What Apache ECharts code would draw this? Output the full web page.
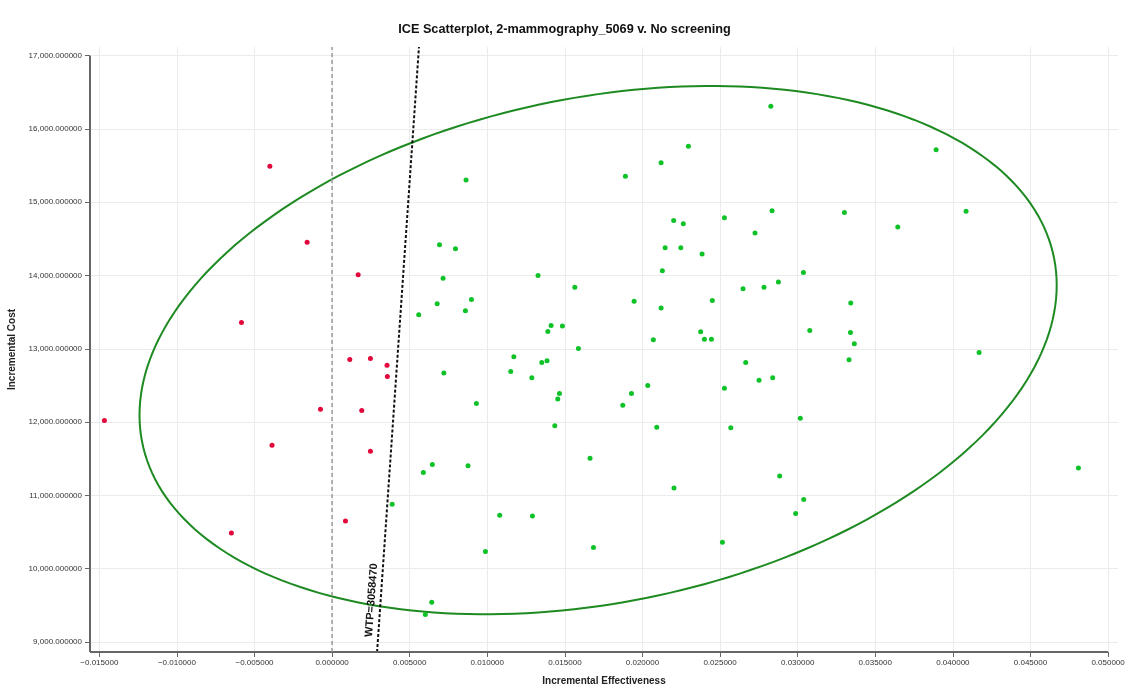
<!DOCTYPE html>
<html>
<head>
<meta charset="utf-8">
<script src="https://cdn.jsdelivr.net/npm/echarts@6/dist/echarts.min.js"></script>
<style>
html,body{margin:0;padding:0;background:#fff;}
#chart{width:1129px;height:697px;}
</style>
</head>
<body>
<div id="chart"></div>
<script>
// ---- data ----
const titleText = 'ICE Scatterplot, 2-mammography_5069 v. No screening';
const xAxisName = 'Incremental Effectiveness';
const yAxisName = 'Incremental Cost';
const WTP = 3058470;
const wtpLabel = 'WTP=3058470';

const xTicks = [-0.015, -0.010, -0.005, 0.000, 0.005, 0.010, 0.015, 0.020, 0.025, 0.030, 0.035, 0.040, 0.045, 0.050];
const yTicks = [9000, 10000, 11000, 12000, 13000, 14000, 15000, 16000, 17000];
const xDomain = [-0.0156, 0.05064];
const yDomain = [8863, 17119];

// points above the WTP line (not cost-effective)
const redPoints = [
  [-0.00401, 15490], [-0.00161, 14453], [0.00168, 14010], [-0.00584, 13360],
  [0.00114, 12855], [0.00247, 12869], [0.00354, 12777], [0.00356, 12623],
  [-0.01467, 12022], [-0.00075, 12177], [0.00191, 12159], [-0.00387, 11685],
  [0.00247, 11603], [0.00086, 10652], [-0.00649, 10488]
];
// points below the WTP line (cost-effective)
const greenPoints = [
  [0.00863, 15303], [0.00692, 14420], [0.00795, 14365], [0.00715, 13965], [0.00558, 13464],
  [0.00677, 13614], [0.00898, 13674], [0.00859, 13519], [0.00720, 12672], [0.01327, 14002],
  [0.01564, 13842], [0.01171, 12891], [0.01151, 12691], [0.01287, 12604], [0.01351, 12814],
  [0.01385, 12836], [0.01390, 13237], [0.01411, 13319], [0.01484, 13310], [0.01587, 13005],
  [0.01890, 15354], [0.02120, 15539], [0.02296, 15763], [0.02201, 14753], [0.02263, 14706],
  [0.02146, 14379], [0.02247, 14379], [0.02384, 14293], [0.02128, 14065], [0.02528, 14788],
  [0.02725, 14580], [0.01946, 13651], [0.02120, 13556], [0.02450, 13661], [0.02648, 13819],
  [0.02375, 13232], [0.02399, 13132], [0.02444, 13132], [0.02070, 13123], [0.02665, 12814],
  [0.00930, 12255], [0.01465, 12391], [0.01454, 12317], [0.01435, 11949], [0.02034, 12500],
  [0.01929, 12391], [0.01873, 12231], [0.02092, 11931], [0.02528, 12463], [0.02569, 11922],
  [0.02751, 12573], [0.00588, 11313], [0.00646, 11422], [0.00876, 11403], [0.01662, 11508],
  [0.02203, 11102], [0.00387, 10880], [0.01080, 10730], [0.01291, 10720], [0.00988, 10234],
  [0.01684, 10289], [0.02515, 10361], [0.00642, 9542], [0.00601, 9374], [0.02827, 16309],
  [0.03892, 15717], [0.02835, 14884], [0.03301, 14862], [0.03645, 14661], [0.04085, 14876],
  [0.03037, 14043], [0.02783, 13842], [0.02876, 13911], [0.03342, 13624], [0.03078, 13251],
  [0.03340, 13224], [0.03365, 13068], [0.03331, 12850], [0.04169, 12951], [0.02839, 12604],
  [0.03017, 12054], [0.02884, 11266], [0.03039, 10944], [0.02987, 10753], [0.04809, 11375]
];

// confidence ellipse (data units): centre + A*cos t + B*sin t
const ellipseCenter = [0.01714, 12982];
const ellipseAxisA = [0.02955, 887];
const ellipseAxisB = [0, 3494];
const wtpLabelCost = 9570;

// ---- chart ----
const chart = echarts.init(document.getElementById('chart'), null, {renderer: 'canvas'});
const FONT = 'Liberation Sans, Arial, sans-serif';

function fmtX(v) {
  const s = Math.abs(v).toFixed(6);
  return (v < 0 ? '\u2212' : '') + s;
}
function fmtY(v) {
  const parts = v.toFixed(6).split('.');
  return parts[0].replace(/\B(?=(\d{3})+(?!\d))/g, ',') + '.' + parts[1];
}

const option = {
  backgroundColor: '#fff',
  animation: false,
  title: {
    text: titleText,
    left: 'center',
    top: 18,
    textStyle: {fontFamily: FONT, fontSize: 12.7, fontWeight: 'bold', color: '#111'}
  },
  grid: {left: 90, right: 11, top: 47, bottom: 45, containLabel: false, outerBoundsMode: 'none'},
  xAxis: {
    type: 'value',
    min: xDomain[0], max: xDomain[1],
    name: xAxisName,
    nameLocation: 'middle',
    nameGap: 24,
    nameTextStyle: {fontFamily: FONT, fontSize: 10, fontWeight: 'bold', color: '#222'},
    axisLine: {show: false, onZero: false},
    axisTick: {show: true, customValues: xTicks, length: 5, lineStyle: {color: '#666', width: 1}},
    axisLabel: {customValues: xTicks, formatter: fmtX, fontFamily: FONT, fontSize: 8, color: '#333', margin: 7},
    splitLine: {show: true, lineStyle: {color: '#ebebeb', width: 1}}
  },
  yAxis: {
    type: 'value',
    min: yDomain[0], max: yDomain[1],
    name: yAxisName,
    nameLocation: 'middle',
    nameRotate: 90,
    nameGap: 64,
    nameTextStyle: {fontFamily: FONT, fontSize: 10, fontWeight: 'bold', color: '#222'},
    axisLine: {show: false, onZero: false},
    axisTick: {show: true, customValues: yTicks, length: 5, lineStyle: {color: '#666', width: 1}},
    axisLabel: {customValues: yTicks, formatter: fmtY, fontFamily: FONT, fontSize: 8, color: '#333', margin: 8},
    splitLine: {show: true, lineStyle: {color: '#ebebeb', width: 1}}
  },
  series: [
    {
      name: 'axes',
      type: 'line',
      data: [],
      silent: true,
      z: 1,
      markLine: {
        silent: true,
        symbol: ['none', 'none'],
        label: {show: false},
        emphasis: {disabled: true},
        data: [
          [{coord: [xDomain[0], yDomain[0]], lineStyle: {color: '#666', width: 2, type: 'solid'}},
           {coord: [xDomain[0], yTicks[yTicks.length - 1]]}],
          [{coord: [xDomain[0], yDomain[0]], lineStyle: {color: '#666', width: 2, type: 'solid'}},
           {coord: [xTicks[xTicks.length - 1], yDomain[0]]}],
          [{coord: [0, yDomain[0]], lineStyle: {color: '#9a9a9a', width: 1.5, type: [4, 3]}},
           {coord: [0, yDomain[1]]}]
        ]
      }
    },
    {
      name: 'ellipse',
      type: 'custom',
      silent: true,
      z: 2,
      data: [ellipseCenter],
      renderItem: function (params, api) {
        const pts = [];
        const n = 240;
        for (let i = 0; i <= n; i++) {
          const t = 2 * Math.PI * i / n;
          const c = Math.cos(t), s = Math.sin(t);
          pts.push(api.coord([
            ellipseCenter[0] + ellipseAxisA[0] * c + ellipseAxisB[0] * s,
            ellipseCenter[1] + ellipseAxisA[1] * c + ellipseAxisB[1] * s
          ]));
        }
        return {
          type: 'polyline',
          shape: {points: pts},
          style: {fill: 'none', stroke: '#1e8a22', lineWidth: 2}
        };
      }
    },
    {
      name: 'cost-effective',
      type: 'scatter',
      z: 3,
      symbolSize: 5,
      itemStyle: {color: '#0ec228', opacity: 1},
      data: greenPoints
    },
    {
      name: 'not cost-effective',
      type: 'scatter',
      z: 3,
      symbolSize: 5,
      itemStyle: {color: '#e3073b', opacity: 1},
      data: redPoints
    },
    {
      name: 'WTP',
      type: 'line',
      z: 4,
      silent: true,
      symbol: 'none',
      lineStyle: {color: '#111', width: 2, type: [3, 2]},
      data: [[yDomain[0] / WTP, yDomain[0]], [yDomain[1] / WTP, yDomain[1]]],
      markPoint: {
        silent: true,
        symbol: 'circle',
        symbolSize: 0,
        data: [{coord: [wtpLabelCost / WTP, wtpLabelCost]}],
        label: {
          show: true,
          formatter: wtpLabel,
          position: 'inside',
          rotate: 86,
          offset: [-0.6, -9],
          fontFamily: FONT,
          fontSize: 11,
          fontWeight: 'bold',
          color: '#111'
        }
      }
    }
  ]
};
chart.setOption(option);
</script>
</body>
</html>
